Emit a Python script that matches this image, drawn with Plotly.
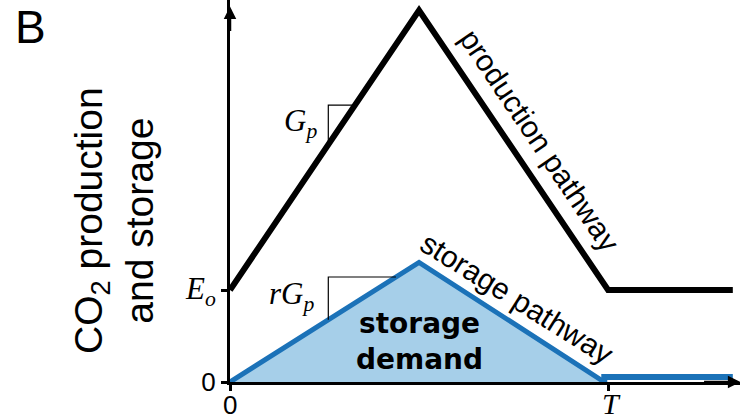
import numpy as np
import plotly.graph_objects as go

# ---- data (schematic units) ----
prod_x = [0.0, 1.0, 2.0, 2.66]
prod_y = [1.0, 4.04, 1.0, 1.0]
stor_x = [0.0, 1.0, 1.98, 1.98, 2.66]
stor_y = [0.0, 1.30, 0.0, 0.054, 0.054]
x_tickvals = [0.0, 2.0]
x_ticklabels = ["0", "T"]
y_tickvals = [0.0, 1.0]
y_ticklabels = ["0", "E_o"]
# slope markers: vertical side x position and top level
gp_marker = dict(x0=0.52, top=3.01)
rgp_marker = dict(x0=0.52, top=1.141)

SANS = "Liberation Sans"
SERIF = "Liberation Serif"
BLUE = "#1b72b8"
FILL = "#a6cfe9"

def serif_it(s, size=None):
    st = f"font-family:{SERIF}"
    if size:
        st += f";font-size:{size}px"
    return f'<span style="{st}"><i>{s}</i></span>'

fig = go.Figure()

# storage filled area
fig.add_trace(go.Scatter(x=stor_x[:3], y=stor_y[:3], mode="lines", fill="tozeroy",
                         fillcolor=FILL, line=dict(color=BLUE, width=5),
                         cliponaxis=False, hoverinfo="skip"))
fig.add_trace(go.Scatter(x=stor_x[2:], y=stor_y[2:], mode="lines",
                         line=dict(color=BLUE, width=6), cliponaxis=False, hoverinfo="skip"))
# production
fig.add_trace(go.Scatter(x=prod_x, y=prod_y, mode="lines",
                         line=dict(color="black", width=6), cliponaxis=False, hoverinfo="skip"))

# slope triangles computed from the series
def slope_tri(xs, ys, m):
    x0 = m["x0"]
    y0 = float(np.interp(x0, xs[:2], ys[:2]))
    x1 = float(np.interp(m["top"], ys[:2], xs[:2]))
    return [x0, x0, x1], [y0, m["top"], m["top"]]

tx, ty = slope_tri(prod_x, prod_y, gp_marker)
fig.add_trace(go.Scatter(x=tx, y=ty, mode="lines", line=dict(color="black", width=1.2),
                         hoverinfo="skip"))
tx2, ty2 = slope_tri(stor_x, stor_y, rgp_marker)
fig.add_trace(go.Scatter(x=tx2, y=ty2, mode="lines", line=dict(color="black", width=1.2),
                         hoverinfo="skip"))

# pixel->paper helpers for the out-of-plot texts
W, H, ML, MB = 740, 417, 230, 35
def px(xp):
    return (xp - ML) / (W - ML)
def py(yp):
    return ((H - MB) - yp) / (H - MB)

ann = []
# axis arrowheads
ann.append(dict(x=2.70, y=0, ax=2.5, ay=0, xref="x", yref="y", axref="x", ayref="y",
                showarrow=True, arrowhead=2, arrowsize=1, arrowwidth=2.5, arrowcolor="black", text=""))
ann.append(dict(x=0, y=4.08, ax=0, ay=3.8, xref="x", yref="y", axref="x", ayref="y",
                showarrow=True, arrowhead=2, arrowsize=1, arrowwidth=2.5, arrowcolor="black", text=""))
# x tick labels (placed close under the axis)
for v, t in zip(x_tickvals, x_ticklabels):
    if t.isalpha():
        ann.append(dict(x=v, y=py(403), xref="x", yref="paper", showarrow=False,
                        xanchor="center", yanchor="middle", xshift=3,
                        text=serif_it(t), font=dict(size=30, color="black", family=SERIF)))
    else:
        ann.append(dict(x=v, y=py(405), xref="x", yref="paper", showarrow=False,
                        xanchor="center", yanchor="middle",
                        text=t, font=dict(size=26, color="black", family=SANS)))
# slope labels
ann.append(dict(x=0.375, y=2.82, xref="x", yref="y", showarrow=False, xanchor="center", yanchor="middle",
                text=serif_it("G") + serif_it("<sub>p</sub>"), font=dict(size=31, color="black", family=SERIF)))
ann.append(dict(x=0.325, y=0.93, xref="x", yref="y", showarrow=False, xanchor="center", yanchor="middle",
                text=serif_it("rG") + serif_it("<sub>p</sub>"), font=dict(size=31, color="black", family=SERIF)))
# pathway labels
ann.append(dict(x=1.64, y=2.63, xref="x", yref="y", showarrow=False, textangle=56,
                xanchor="center", yanchor="middle",
                text="production pathway", font=dict(size=30, color="black", family=SANS)))
ann.append(dict(x=1.52, y=0.91, xref="x", yref="y", showarrow=False, textangle=32,
                xanchor="center", yanchor="middle",
                text="storage pathway", font=dict(size=30, color="black", family=SANS)))
ann.append(dict(x=1.005, y=0.44, xref="x", yref="y", showarrow=False, xanchor="center", yanchor="middle",
                text="<b>storage</b><br><b>demand</b>", font=dict(size=28, color="black", family="DejaVu Sans")))
# y title
ann.append(dict(x=px(114), y=py(221), xref="paper", yref="paper", showarrow=False, textangle=-90,
                xanchor="center", yanchor="middle",
                text="CO<sub>2</sub> production<br>and storage", font=dict(size=39, color="black", family=SANS)))
# panel label
ann.append(dict(x=px(30), y=py(27), xref="paper", yref="paper", showarrow=False,
                xanchor="center", yanchor="middle",
                text="B", font=dict(size=46, color="black", family=SANS)))

yt = [serif_it("E", 31) + serif_it("<sub>o</sub>", 31) if t == "E_o" else t for t in y_ticklabels]

fig.update_layout(
    width=W, height=H,
    margin=dict(l=ML, r=0, t=0, b=MB, autoexpand=False),
    paper_bgcolor="white", plot_bgcolor="white",
    showlegend=False,
    annotations=ann,
    xaxis=dict(range=[0, 2.698], showgrid=False, zeroline=False, showline=True,
               linecolor="black", linewidth=3, ticks="outside", ticklen=6, tickwidth=3,
               tickcolor="black", tickvals=x_tickvals, showticklabels=False),
    yaxis=dict(range=[0, 4.152], showgrid=False, zeroline=False, showline=True,
               linecolor="black", linewidth=3, ticks="outside", ticklen=6, tickwidth=3,
               tickcolor="black", tickvals=y_tickvals, ticktext=yt,
               tickfont=dict(size=26, family=SANS, color="black")),
)

fig.write_html("out.html", config={"displayModeBar": False},
               post_script="document.body.style.margin='0';")
